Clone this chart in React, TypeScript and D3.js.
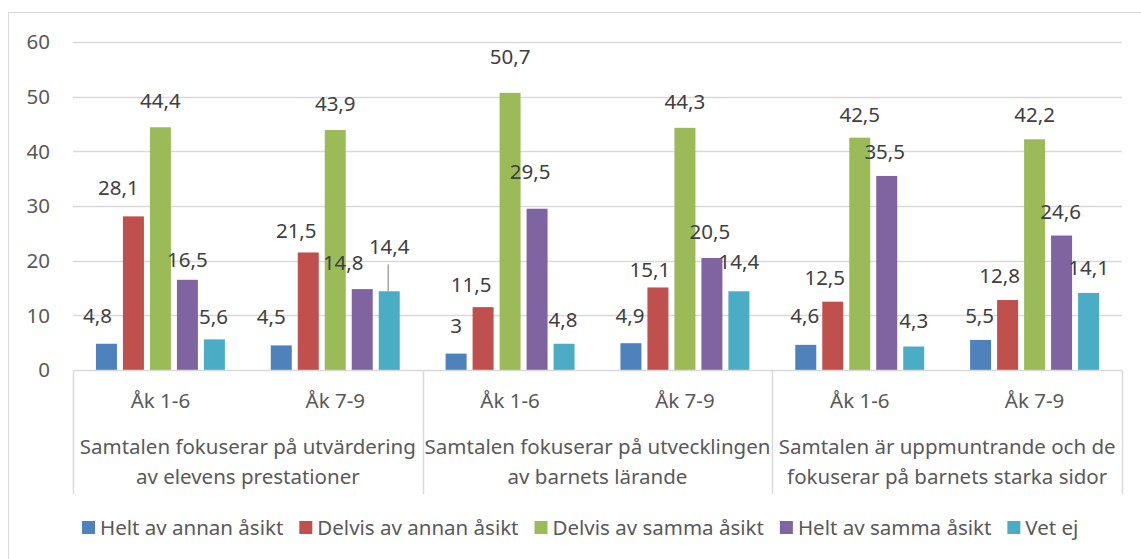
import { useEffect, useRef } from 'react'
import * as d3 from 'd3'

const W = 1141
const H = 559
const margin = { top: 42, left: 73, right: 19, bottom: 189 }

// kategorier (tre påståenden, två årskurser vardera)
const statements: string[][] = [
    ['Samtalen fokuserar på utvärdering', 'av elevens prestationer'],
    ['Samtalen fokuserar på utvecklingen', 'av barnets lärande'],
    ['Samtalen är uppmuntrande och de', 'fokuserar på barnets starka sidor'],
]
const grades: string[] = ['Åk 1-6', 'Åk 7-9']

const seriesNames: string[] = [
    'Helt av annan åsikt',
    'Delvis av annan åsikt',
    'Delvis av samma åsikt',
    'Helt av samma åsikt',
    'Vet ej',
]
const heltAnnan: number[] = [4.8, 4.5, 3, 4.9, 4.6, 5.5]
const delvisAnnan: number[] = [28.1, 21.5, 11.5, 15.1, 12.5, 12.8]
const delvisSamma: number[] = [44.4, 43.9, 50.7, 44.3, 42.5, 42.2]
const heltSamma: number[] = [16.5, 14.8, 29.5, 20.5, 35.5, 24.6]
const vetEj: number[] = [5.6, 14.4, 4.8, 14.4, 4.3, 14.1]
const yTicks: number[] = [0, 10, 20, 30, 40, 50, 60]

const colors = ['#4f81bd', '#c0504d', '#9bbb59', '#8064a2', '#4bacc6']

// handflyttade dataetiketter (dx, dy från stapelns topp), som i Excel-originalet
const labelNudge: [number, number][][] = [
    [[-9, -28], [-10, -29], [0, -28], [-1, -27], [-1, -29], [-1, -24]],
    [[-15, -29], [-12, -22], [-12, -22], [-8, -18], [-8, -24], [-8, -24]],
    [[0, -26], [0, -26], [0, -36], [0, -26], [0, -23], [0, -24]],
    [[0, -20], [-19, -26], [-7, -37], [-2, -26], [-2, -24], [-1, -24]],
    [[-1, -23], [0, -44], [-1, -24], [0, -29], [0, -26], [0, -25]],
]
// etiketter med hänvisningslinje: [serie, kolumn]
const leaders: [number, number][] = [[4, 1]]

const fmt = (v: number) => String(v).replace('.', ',')
const FONT = '"Noto Sans", "Open Sans", sans-serif'
const FS = 20.5

export default function App() {
    const ref = useRef<SVGSVGElement>(null)

    useEffect(() => {
        const svg = d3.select(ref.current)
        svg.selectAll('*').remove()

        const series = [heltAnnan, delvisAnnan, delvisSamma, heltSamma, vetEj]
        const columns = d3.range(statements.length * grades.length)
        const innerH = H - margin.top - margin.bottom

        const x0 = d3.scaleBand<number>()
            .domain(columns)
            .range([margin.left, W - margin.right])
        const x1 = d3.scaleBand<number>()
            .domain(d3.range(series.length))
            .range([0, x0.bandwidth()])
            .paddingInner(0.222)
            .paddingOuter(0.85)
        const y = d3.scaleLinear()
            .domain([0, 60])
            .range([margin.top + innerH, margin.top])

        // yttre ram
        svg.append('rect')
            .attr('x', 8.5).attr('y', 12.5)
            .attr('width', W).attr('height', H)
            .attr('fill', 'none')
            .attr('stroke', '#d9d9d9')

        // rutnät
        svg.append('g')
            .selectAll('line')
            .data(yTicks.filter(t => t > 0))
            .join('line')
            .attr('x1', margin.left).attr('x2', W - margin.right)
            .attr('y1', d => Math.round(y(d)) + 0.5).attr('y2', d => Math.round(y(d)) + 0.5)
            .attr('stroke', '#d9d9d9')
            .attr('stroke-width', 1.5)

        svg.append('g')
            .selectAll('text')
            .data(yTicks)
            .join('text')
            .attr('x', 50)
            .attr('y', d => y(d))
            .attr('dy', '0.35em')
            .attr('text-anchor', 'end')
            .attr('font-family', FONT)
            .attr('font-size', FS)
            .attr('fill', '#595959')
            .text(d => d)

        // staplar
        series.forEach((vals, si) => {
            svg.append('g')
                .selectAll('rect')
                .data(vals)
                .join('rect')
                .attr('x', (_, ci) => x0(ci)! + x1(si)!)
                .attr('y', d => y(d))
                .attr('width', x1.bandwidth())
                .attr('height', d => y(0) - y(d))
                .attr('fill', colors[si])
        })

        // dataetiketter
        series.forEach((vals, si) => {
            svg.append('g')
                .selectAll('text')
                .data(vals)
                .join('text')
                .attr('x', (_, ci) => x0(ci)! + x1(si)! + x1.bandwidth() / 2 + labelNudge[si][ci][0])
                .attr('y', (d, ci) => y(d) + labelNudge[si][ci][1])
                .attr('dy', '0.35em')
                .attr('text-anchor', 'middle')
                .attr('font-family', FONT)
                .attr('font-size', FS)
                .attr('fill', '#404040')
                .text(d => fmt(d))
        })

        leaders.forEach(([si, ci]) => {
            const cx = x0(ci)! + x1(si)! + x1.bandwidth() / 2
            const v = series[si][ci]
            svg.append('line')
                .attr('x1', cx - 1).attr('x2', cx - 1)
                .attr('y1', y(v) + labelNudge[si][ci][1] + 17)
                .attr('y2', y(v))
                .attr('stroke', '#a6a6a6')
                .attr('stroke-width', 1.5)
        })

        // x-axel
        const base = Math.round(y(0)) + 0.5
        svg.append('line')
            .attr('x1', margin.left).attr('x2', W - margin.right)
            .attr('y1', base).attr('y2', base)
            .attr('stroke', '#d9d9d9')
            .attr('stroke-width', 1.5)

        const groupW = x0.step() * grades.length
        const dividers = d3.range(statements.length + 1).map(i => margin.left + i * groupW)
        svg.append('g')
            .selectAll('line')
            .data(dividers)
            .join('line')
            .attr('x1', d => Math.round(d) + 0.5).attr('x2', d => Math.round(d) + 0.5)
            .attr('y1', base).attr('y2', 494)
            .attr('stroke', '#d9d9d9')
            .attr('stroke-width', 1.5)

        svg.append('g')
            .selectAll('text')
            .data(columns)
            .join('text')
            .attr('x', ci => x0(ci)! + x0.bandwidth() / 2)
            .attr('y', 408)
            .attr('text-anchor', 'middle')
            .attr('font-family', FONT)
            .attr('font-size', FS)
            .attr('fill', '#595959')
            .text(ci => grades[ci % grades.length])

        statements.forEach((lines, gi) => {
            const t = svg.append('text')
                .attr('x', margin.left + (gi + 0.5) * groupW)
                .attr('y', 454)
                .attr('text-anchor', 'middle')
                .attr('font-family', FONT)
                .attr('font-size', FS)
                .attr('fill', '#595959')
            lines.forEach((line, li) => {
                t.append('tspan')
                    .attr('x', margin.left + (gi + 0.5) * groupW)
                    .attr('dy', li === 0 ? 0 : 30)
                    .text(line)
            })
        })

        // förklaring
        const legend = svg.append('g')
        let lx = 82
        seriesNames.forEach((name, i) => {
            legend.append('rect')
                .attr('x', lx).attr('y', 521)
                .attr('width', 13).attr('height', 13)
                .attr('fill', colors[i])
            const txt = legend.append('text')
                .attr('x', lx + 18)
                .attr('y', 527.5)
                .attr('dy', '0.35em')
                .attr('font-family', FONT)
                .attr('font-size', FS)
                .attr('fill', '#595959')
                .text(name)
            const len = (txt.node() as SVGTextElement).getComputedTextLength()
            lx += 18 + len + 16
        })
    }, [])

    return (
        <svg ref={ref} width={W} height={H} style={{ position: 'absolute', left: 0, top: 0 }} />
    )
}
